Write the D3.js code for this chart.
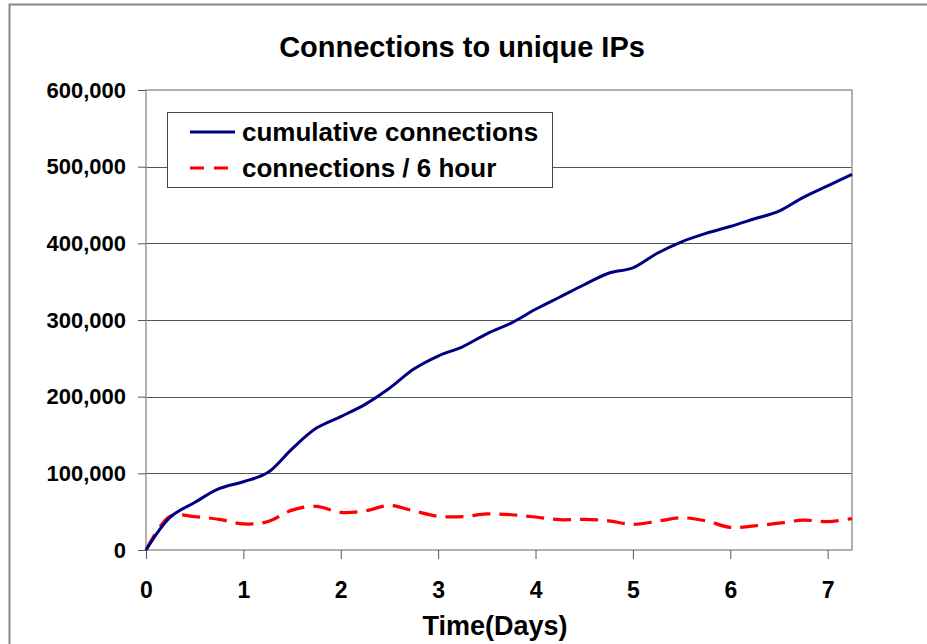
<!DOCTYPE html>
<html>
<head>
<meta charset="utf-8">
<script src="https://cdn.jsdelivr.net/npm/d3@7"></script>
<style>
  body { margin: 0; background: #fff; }
  svg { display: block; font-family: "Liberation Sans", Arial, sans-serif; font-weight: bold; }
</style>
</head>
<body>
<div id="chart"></div>
<script>
// time in days, one point every 6 hours
const days = [0, 0.25, 0.5, 0.75, 1, 1.25, 1.5, 1.75, 2, 2.25, 2.5, 2.75, 3, 3.25, 3.5,
    3.75, 4, 4.25, 4.5, 4.75, 5, 5.25, 5.5, 5.75, 6, 6.25, 6.5, 6.75, 7, 7.25];

const cumulative = [0, 43000, 62000, 80000, 89000, 101000, 132000, 159000, 174000, 190000,
    211000, 236000, 253000, 265000, 282000, 296000, 314000, 330000, 346000, 361000,
    368000, 387000, 402000, 413000, 422000, 432000, 442000, 460000, 475000, 490000];

const perSixHours = [0, 44000, 43500, 40000, 34000, 37000, 52000, 57000, 49000, 51000,
    58000, 51000, 44000, 43500, 47000, 46000, 43000, 39500, 40000, 38000,
    33500, 37500, 42000, 38000, 29500, 31500, 35000, 39000, 37000, 41000];

const xTicks = [0, 1, 2, 3, 4, 5, 6, 7];
const yTicks = [0, 100000, 200000, 300000, 400000, 500000, 600000];
const seriesNames = ["cumulative connections", "connections / 6 hour"];

const W = 927, H = 644;
const margin = { top: 90, right: 75, bottom: 94, left: 146 },
    width = W - margin.left - margin.right,
    height = H - margin.top - margin.bottom;

const svg = d3.select("#chart").append("svg")
    .attr("width", W)
    .attr("height", H);

// outer frame (only top and left edges are in view)
svg.append("rect")
    .attr("x", 9.5).attr("y", 4.5)
    .attr("width", W + 20).attr("height", H + 20)
    .attr("fill", "#fff")
    .attr("stroke", "#888")
    .attr("stroke-width", 2);

svg.append("text")
    .attr("x", 462).attr("y", 57)
    .attr("text-anchor", "middle")
    .attr("font-size", 29)
    .text("Connections to unique IPs");

const g = svg.append("g")
    .attr("transform", `translate(${margin.left},${margin.top})`);

const x = d3.scaleLinear().domain([0, 7.25]).range([0, width]);
const y = d3.scaleLinear().domain([0, 600000]).range([height, 0]);

// gridlines
g.selectAll(".grid")
    .data(yTicks.filter(d => d > 0 && d < 600000))
    .join("line")
    .attr("class", "grid")
    .attr("x1", 0).attr("x2", width)
    .attr("y1", d => Math.round(y(d)) + 0.5)
    .attr("y2", d => Math.round(y(d)) + 0.5)
    .attr("stroke", "#555")
    .attr("stroke-width", 1);

// plot border
g.append("rect")
    .attr("x", 0).attr("y", 0)
    .attr("width", width).attr("height", height)
    .attr("fill", "none")
    .attr("stroke", "#999")
    .attr("stroke-width", 1.5);

const fmt = d3.format(",");

const yAxis = d3.axisLeft(y)
    .tickValues(yTicks)
    .tickFormat(fmt)
    .tickSize(8)
    .tickPadding(12);

const xAxis = d3.axisBottom(x)
    .tickValues(xTicks)
    .tickFormat(d3.format("d"))
    .tickSize(9)
    .tickPadding(23);

const yDisplay = g.append("g").call(yAxis);
yDisplay.select(".domain").remove();
yDisplay.selectAll("line").attr("stroke", "#555");
yDisplay.selectAll("text")
    .attr("font-size", 22)
    .attr("font-family", "Liberation Sans, Arial, sans-serif")
    .attr("font-weight", "bold")
    .attr("fill", "#000");

const xDisplay = g.append("g")
    .attr("transform", `translate(0,${height})`)
    .call(xAxis);
xDisplay.select(".domain").remove();
xDisplay.selectAll("line").attr("stroke", "#555");
xDisplay.selectAll("text")
    .attr("font-size", 23)
    .attr("font-family", "Liberation Sans, Arial, sans-serif")
    .attr("font-weight", "bold")
    .attr("fill", "#000");

svg.append("text")
    .attr("x", margin.left + width / 2 - 4)
    .attr("y", 635)
    .attr("text-anchor", "middle")
    .attr("font-size", 27)
    .text("Time(Days)");

const line = d3.line()
    .x((d, i) => x(days[i]))
    .y(d => y(d))
    .curve(d3.curveCatmullRom.alpha(0.5));

g.append("path")
    .datum(perSixHours)
    .attr("d", line)
    .attr("fill", "none")
    .attr("stroke", "#ff0000")
    .attr("stroke-width", 3.2)
    .attr("stroke-dasharray", "18,9");

g.append("path")
    .datum(cumulative)
    .attr("d", line)
    .attr("fill", "none")
    .attr("stroke", "#000080")
    .attr("stroke-width", 3);

// legend
const legend = svg.append("g").attr("transform", "translate(167,112)");
legend.append("rect")
    .attr("x", 0.5).attr("y", 0.5)
    .attr("width", 385).attr("height", 75)
    .attr("fill", "#fff")
    .attr("stroke", "#444")
    .attr("stroke-width", 1);

const legendItems = legend.selectAll(".item")
    .data(seriesNames)
    .join("g")
    .attr("class", "item")
    .attr("transform", (d, i) => `translate(0,${20 + i * 36})`);

legendItems.append("line")
    .attr("x1", 23).attr("x2", 68)
    .attr("y1", 0).attr("y2", 0)
    .attr("stroke", (d, i) => i === 0 ? "#000080" : "#ff0000")
    .attr("stroke-width", 3)
    .attr("stroke-dasharray", (d, i) => i === 0 ? null : "14,10");

legendItems.append("text")
    .attr("x", 75)
    .attr("y", 9)
    .attr("font-size", 26)
    .text(d => d);
</script>
</body>
</html>
